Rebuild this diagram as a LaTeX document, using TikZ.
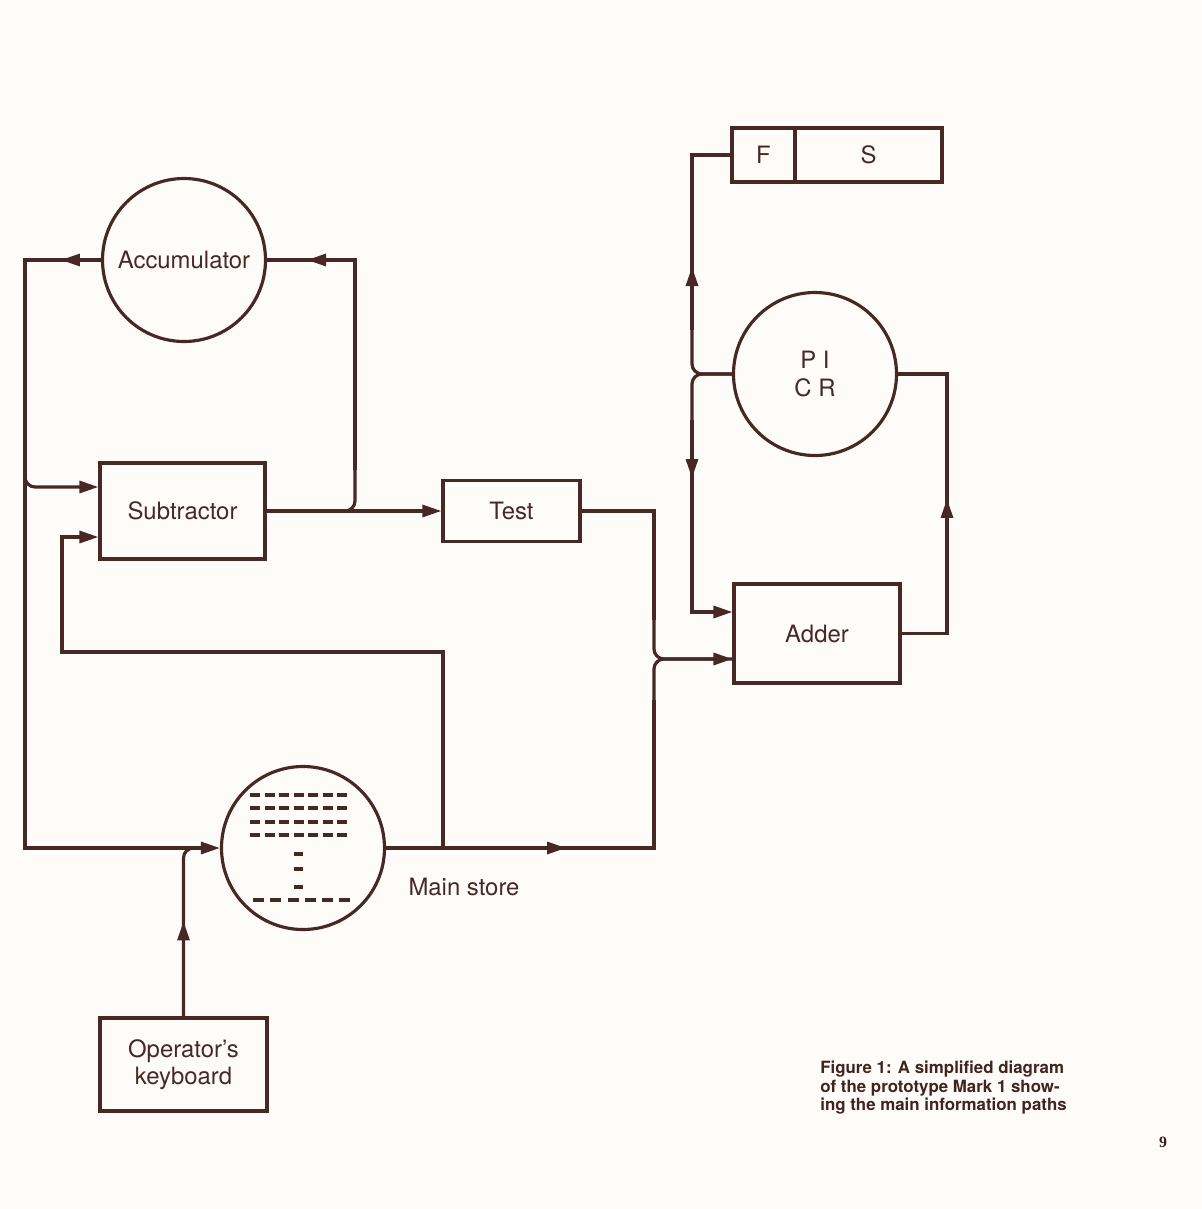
\documentclass[tikz,border=0pt]{standalone}
\usepackage{fontspec}
\setmainfont{TeX Gyre Heros}
\newfontfamily\folionum{Liberation Serif}
\usetikzlibrary{positioning,arrows.meta,calc,decorations.markings}
\definecolor{inkbrown}{HTML}{482824}
\definecolor{paper}{HTML}{FDFCF9}
\newcommand{\unitfont}{\fontsize{13.6}{15.6}\selectfont}
\tikzset{
  unitbox/.style={rectangle, draw=inkbrown, line width=1.8pt, inner sep=0pt,
    align=center, text=inkbrown, font=\unitfont},
  unitdisc/.style={circle, draw=inkbrown, line width=1.8pt, minimum size=3.26cm,
    inner sep=0pt, align=center, text=inkbrown, font=\unitfont},
  wire/.style={draw=inkbrown, line width=1.8pt},
  flow/.style={wire, -{Triangle[length=3.8mm, width=2.4mm]}},
  tipat/.style={postaction={decorate}, decoration={markings,
    mark=at position #1 with {\arrow{Triangle[length=3.8mm, width=2.4mm]}}}},
  storedash/.style={draw=inkbrown, line width=1.8pt},
}

\begin{document}
\begin{tikzpicture}
\fill[paper] (0,0) rectangle (24.04,-24.18);
\useasboundingbox (0,0) rectangle (24.04,-24.18);
% units of the machine
\node[unitdisc] (acc) at (3.68,-5.2) {Accumulator};
\node[unitbox, minimum width=3.3cm, minimum height=1.92cm] (sub) at (3.65,-10.22) {Subtractor};
\node[unitbox, minimum width=2.74cm, minimum height=1.22cm] (test) at (10.23,-10.22) {Test};
\node[unitdisc] (store) at (6.06,-16.96) {};
\node[unitbox, minimum width=3.34cm, minimum height=1.86cm] (kb) at (3.67,-21.29) {Operator's\\keyboard};
\node[unitbox, minimum width=3.32cm, minimum height=1.98cm] (adder) at (16.34,-12.67) {Adder};
\node[unitdisc] (picr) at (16.3,-7.48) {P I\\C R};
\node[unitbox, minimum width=1.26cm, minimum height=1.08cm] (fbox) at (15.27,-3.1) {F};
\node[unitbox, minimum width=2.94cm, minimum height=1.08cm, anchor=west, xshift=-1.8pt] (sbox) at (fbox.east) {S};
\node[text=inkbrown, font=\unitfont] (storelab) at (9.28,-17.74) {Main store};
% contents of the main store
\foreach \r in {-15.9,-16.16,-16.44,-16.7}
  \foreach \k in {0,...,6}
    \draw[storedash] ({5.0+0.29*\k},\r) -- ++(0.2,0);
\foreach \r in {-17.08,-17.38,-17.74}
  \draw[storedash] (5.88,\r) -- ++(0.18,0);
\foreach \k in {0,...,5}
  \draw[storedash] ({5.06+0.345*\k},-18.0) -- ++(0.22,0);
% left bus: accumulator round to the main store
\coordinate (busbot) at (0.5,-16.96);
\draw[flow, tipat=0.8cm] (acc.west) -| (busbot) -- (store.west);
\draw[flow, rounded corners=2mm] (0.5,-9.2) |- ($(sub.west)+(0,0.48)$);
% subtractor to test, and back to the accumulator
\draw[flow] (sub.east) -- (test.west);
\coordinate (fb) at (7.1,-9.4);
\draw[wire, rounded corners=2mm] ($(sub.east)+(1.4,0)$) -| (fb);
\draw[wire, tipat=-0.8cm] (fb) |- (acc.east);
% second subtractor input, tapped off the store output
\coordinate (tap) at (8.86,-16.96);
\draw[flow] (tap) |- (1.24,-13.04) |- ($(sub.west)+(0,-0.52)$);
% store output and test output merge into the adder
\coordinate (mrgup) at (13.08,-12.4);
\coordinate (mrgdn) at (13.08,-14.0);
\draw[wire, tipat=3.6cm] (store.east) -| (mrgdn);
\draw[wire, rounded corners=2mm] (mrgdn) |- ($(adder.west)+(0,-0.51)$);
\draw[wire] (test.east) -| (mrgup);
\draw[flow, rounded corners=2mm] (mrgup) |- ($(adder.west)+(0,-0.51)$);
% PI CR out to F S and to the adder
\coordinate (pjup) at (13.84,-6.6);
\coordinate (pjdn) at (13.84,-8.4);
\draw[wire, rounded corners=2mm] (picr.west) -| (pjup);
\draw[wire, tipat=1.26cm] (pjup) |- (fbox.west);
\draw[wire, rounded corners=2mm] (picr.west) -| (pjdn);
\draw[flow, tipat=1.16cm] (pjdn) |- ($(adder.west)+(0,0.43)$);
% adder back to PI CR
\draw[wire, tipat=3.6cm] (adder.east) -| (18.94,-9.0) |- (picr.east);
% keyboard into the store
\draw[wire, tipat=1.9cm, rounded corners=2mm] (kb.north) |- ($(kb.north |- store.west)+(0.6,0)$);
% caption and folio
\node[anchor=north west, align=left, text=inkbrown!90!black, font=\fontsize{9.6}{10.4}\selectfont\bfseries, inner sep=0pt] (caption) at (16.4,-21.22)
  {Figure 1: A simplified diagram\\of the prototype Mark 1 show-\\ing the main information paths};
\node[text=inkbrown!80!black, font=\folionum\fontsize{9}{10}\selectfont\bfseries] (folio) at (23.26,-22.84) {9};
\end{tikzpicture}
\end{document}
